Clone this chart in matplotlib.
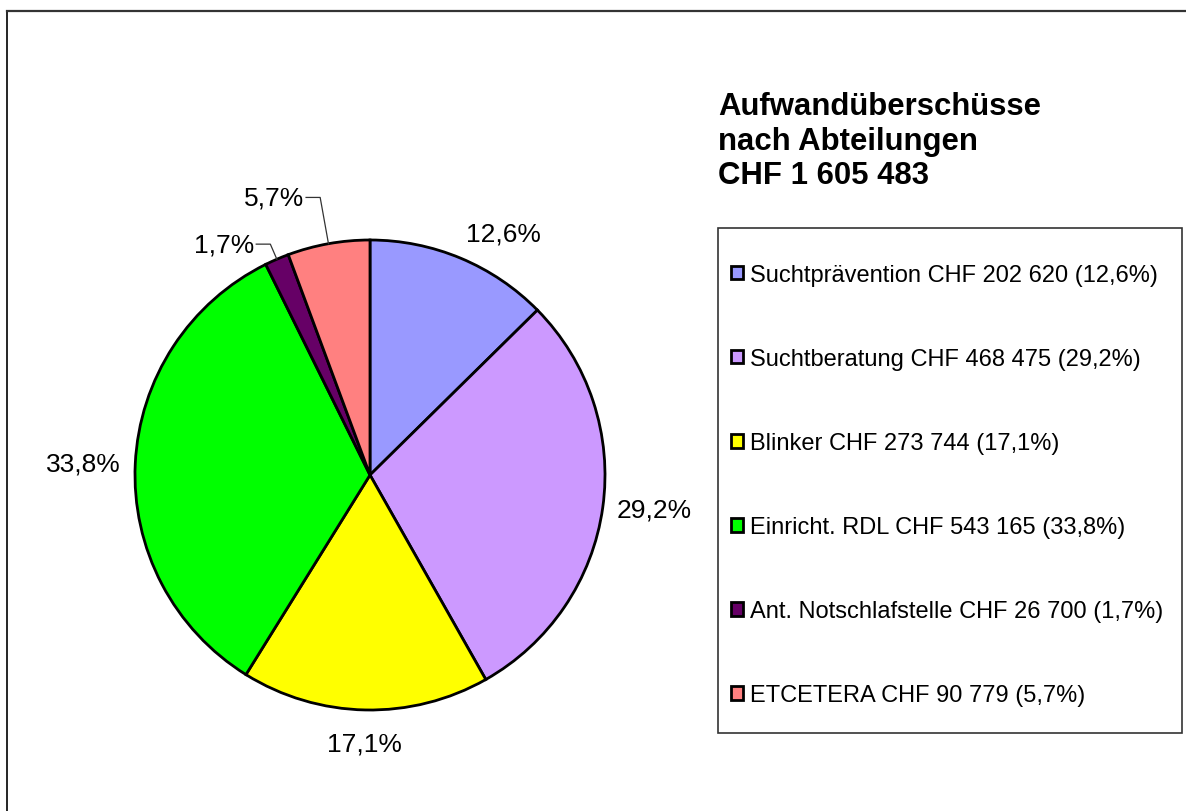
import numpy as np
import matplotlib.pyplot as plt
from matplotlib.patches import Rectangle
from matplotlib.lines import Line2D

plt.rcParams['font.family'] = ['Liberation Sans', 'DejaVu Sans']

# data
departments = ['Suchtprävention', 'Suchtberatung', 'Blinker', 'Einricht. RDL',
               'Ant. Notschlafstelle', 'ETCETERA']
amounts = [202620, 468475, 273744, 543165, 26700, 90779]
amount_labels = ['202 620', '468 475', '273 744', '543 165', '26 700', '90 779']
pct_labels = ['12,6%', '29,2%', '17,1%', '33,8%', '1,7%', '5,7%']
colors = ['#9999FF', '#CC99FF', '#FFFF00', '#00FF00', '#660066', '#FF8080']
total_label = '1 605 483'

W, H = 1186, 812
fig = plt.figure(figsize=(W / 100, H / 100), dpi=100)

# outer frame (only top and left visible in the original)
fig.add_artist(Line2D([7 / W, 7 / W], [0, 1 - 12 / H], transform=fig.transFigure,
                      color='black', lw=1.2))
fig.add_artist(Line2D([7 / W, 1], [1 - 12 / H, 1 - 12 / H], transform=fig.transFigure,
                      color='#333333', lw=1.6))

# pie
cx, cy, r = 370, 476, 235
ax = fig.add_axes([(cx - r) / W, (H - cy - r) / H, 2 * r / W, 2 * r / H])
wedges, _ = ax.pie(amounts, colors=colors, startangle=90, counterclock=False,
                   radius=1.0, wedgeprops=dict(edgecolor='black', linewidth=2.0))
ax.set_xlim(-1, 1)
ax.set_ylim(-1, 1)
ax.set_aspect('equal')
ax.axis('off')

# percentage labels, small slices get a leader line
small = {4: 1.07, 5: 1.20}
for i, (w, lab) in enumerate(zip(wedges, pct_labels)):
    ang = np.deg2rad((w.theta1 + w.theta2) / 2)
    ca, sa = np.cos(ang), np.sin(ang)
    if i in small:
        re = small[i]
        ex, ey = re * ca, re * sa
        ax.plot([ca, ex, ex - 0.06], [sa, ey, ey], color='#333333', lw=0.9,
                clip_on=False)
        ax.text(ex - 0.07, ey, lab, ha='right', va='center', fontsize=19)
    else:
        ha = 'left' if ca > 0.2 else ('right' if ca < -0.2 else 'center')
        va = 'bottom' if sa > 0.5 else ('top' if sa < -0.5 else 'center')
        d = 1.06 if va != 'top' else 1.09
        ax.text(d * ca, d * sa, lab, ha=ha, va=va, fontsize=19)

# title
fig.text(718 / W, 1 - 92 / H,
         'Aufwandüberschüsse\nnach Abteilungen\nCHF ' + total_label,
         ha='left', va='top', fontsize=22.4, fontweight='bold', linespacing=1.2)

# legend box
fig.add_artist(Rectangle((718 / W, 1 - 734 / H), (1182 - 718) / W, (734 - 229) / H,
                         transform=fig.transFigure, facecolor='none',
                         edgecolor='#333333', lw=1.2))
legend_labels = ['%s CHF %s (%s)' % (d, a, p)
                 for d, a, p in zip(departments, amount_labels, pct_labels)]
fig.legend(wedges, legend_labels, loc='upper left',
           bbox_to_anchor=(731 / W, 1 - 265 / H), frameon=False, fontsize=17,
           handlelength=0.5, handleheight=0.5, handletextpad=0.3,
           labelspacing=2.63, borderpad=0, borderaxespad=0)

fig.savefig('out.png', dpi=100)
